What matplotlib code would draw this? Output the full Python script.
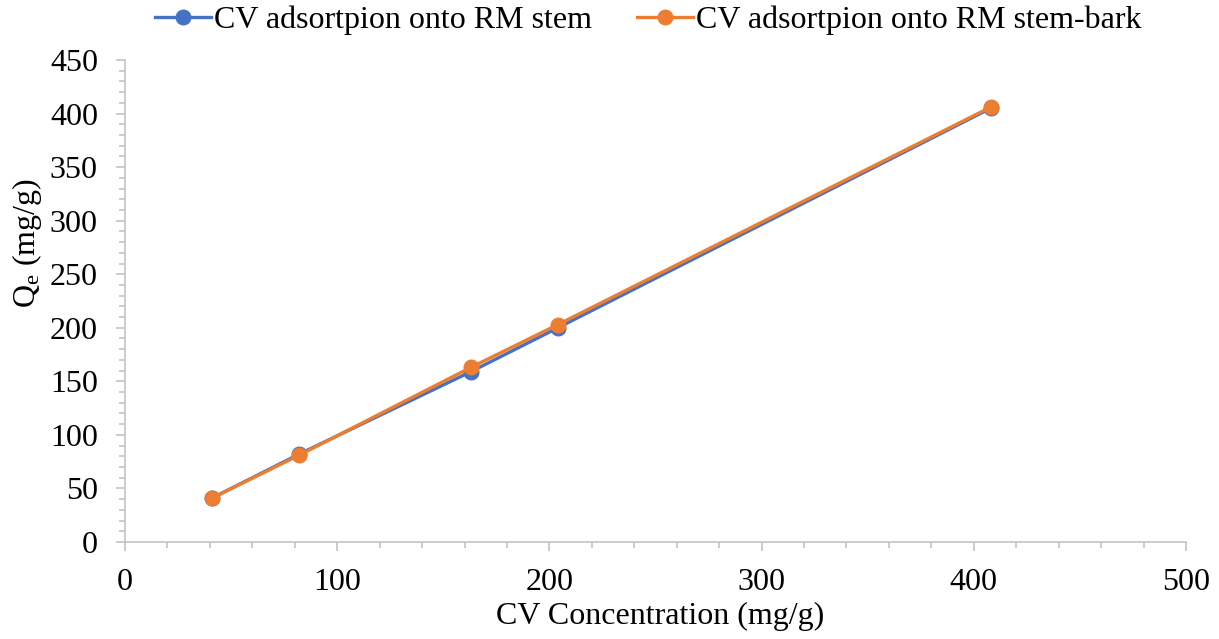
import matplotlib
matplotlib.use("Agg")
import matplotlib.pyplot as plt
from matplotlib.ticker import MultipleLocator

plt.rcParams['font.family'] = ['Liberation Serif', 'DejaVu Serif']
plt.rcParams['mathtext.fontset'] = 'custom'
plt.rcParams['mathtext.rm'] = 'Liberation Serif'
plt.rcParams['mathtext.it'] = 'Liberation Serif:italic'

x_stem = [41, 82, 163, 204, 408]
y_stem = [41, 82, 159, 200, 405]
x_bark = [41, 82, 163, 204, 408]
y_bark = [41, 81, 163, 203, 406]

series_names = ["CV adsortpion onto RM stem", "CV adsortpion onto RM stem-bark"]
colors = ["#4472C4", "#ED7D31"]

fig = plt.figure(figsize=(12.19, 6.39), dpi=100)
ax = fig.add_axes([125/1219, 97/639, (1186-125)/1219, (542-60)/639])

ax.plot(x_stem, y_stem, color=colors[0], lw=2.4, marker='o', ms=10.5, label=series_names[0], zorder=3)
ax.plot(x_bark, y_bark, color=colors[1], lw=2.4, marker='o', ms=10.5, label=series_names[1], zorder=4)

ax.set_xlim(0, 500)
ax.set_ylim(0, 450)
ax.xaxis.set_major_locator(MultipleLocator(100))
ax.xaxis.set_minor_locator(MultipleLocator(20))
ax.yaxis.set_major_locator(MultipleLocator(50))
ax.yaxis.set_minor_locator(MultipleLocator(10))

gray = "#BFBFBF"
for s in ['top', 'right']:
    ax.spines[s].set_visible(False)
for s in ['left', 'bottom']:
    ax.spines[s].set_color(gray)
    ax.spines[s].set_linewidth(1.1)

fs = 23
ax.tick_params(which='major', direction='out', length=6.5, width=1.1, color=gray,
               labelsize=fs, labelcolor='black')
ax.tick_params(which='minor', direction='out', length=4.3, width=1.1, color=gray)
ax.tick_params(axis='y', which='major', pad=13)
ax.tick_params(axis='x', which='major', pad=12)

ax.set_xlabel("CV Concentration (mg/g)", fontsize=fs)
ax.set_ylabel(r"Q$_\mathrm{e}$ (mg/g)", fontsize=fs)
ax.yaxis.set_label_coords(-(125-27)/1061, (542-243)/482)
ax.xaxis.set_label_coords((660-125)/1061, -(616-542)/482)
ax.xaxis.label.set_va('center')
ax.yaxis.label.set_va('center')

fig.legend(loc='center', bbox_to_anchor=(648/1219, 1 - 20/639), ncol=2, frameon=False,
           fontsize=fs, handlelength=1.75, handletextpad=0.1, columnspacing=1.4,
           borderpad=0, borderaxespad=0)

fig.savefig("out.png", dpi=100)
